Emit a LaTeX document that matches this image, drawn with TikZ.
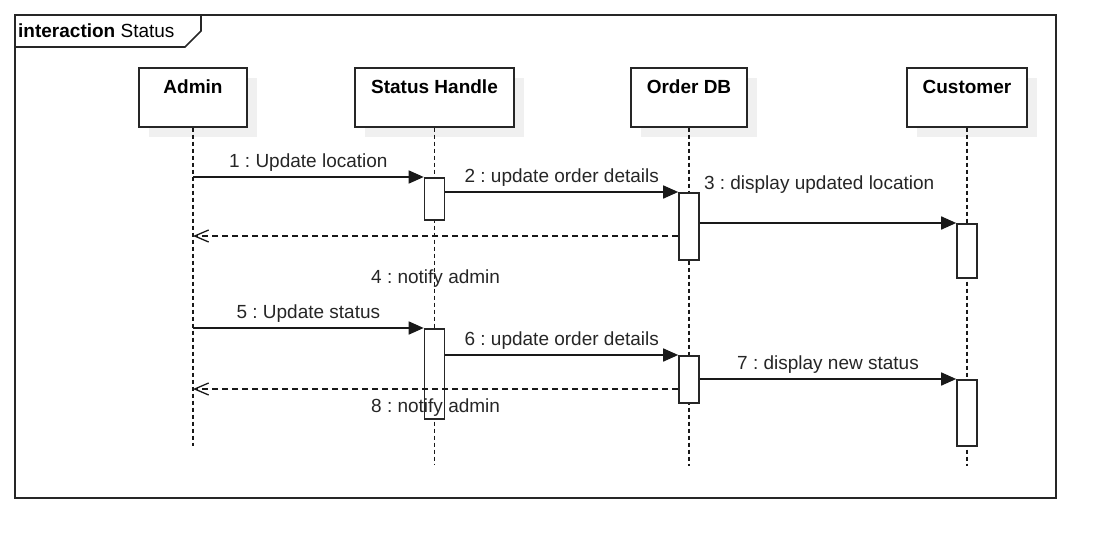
\documentclass[tikz,border=0pt]{standalone}
\usepackage{fontspec}
\setmainfont{Liberation Sans}
\usetikzlibrary{
	arrows.meta,
	positioning,
	shadows
}
\frenchspacing

\begin{document}
\begin{tikzpicture}[
			x=1pt, y=-1pt,
			font=\fontsize{19}{23}\selectfont,
			bloco/.style={draw=black!85, line width=1.6pt, fill=white, anchor=north, inner sep=0pt, text height=26pt, text depth=33pt, font=\fontsize{19}{23}\selectfont\bfseries, general shadow={fill=black!6, shadow xshift=10pt, shadow yshift=-10pt}},
			ativo/.style={draw=black!85, line width=1.6pt, fill=white, anchor=north, minimum width=20pt, inner sep=0pt},
			vida/.style={draw=black!90, line width=1.3pt, dash pattern=on 4pt off 3pt},
			fl/.style={-{Triangle[length=15pt,width=13pt]}, draw=black!90, line width=1.6pt},
			ret/.style={-{Straight Barb[length=14pt,width=12pt]}, draw=black!90, line width=1.3pt, dash pattern=on 6pt off 4pt},
			rot/.style={inner sep=0pt, text=black!85}
		]
		\useasboundingbox (0,0) rectangle (1116,559);

		% moldura
		\draw[line width=1.6pt, draw=black!85] (15,15) rectangle (1056,498);
		\draw[line width=1.6pt, draw=black!85] (15,47) -- (185,47) -- (201,31) -- (201,15);
		\node[rot, anchor=base west, text=black] (titulo) at (18,37.3) {\textbf{interaction} Status};

		% participantes
		\node[bloco, minimum width=108pt] (admin) at (193,67) {Admin};
		\node[bloco, minimum width=159pt] (handle) at (434.5,67) {Status Handle};
		\node[bloco, minimum width=116pt] (orderdb) at (689,67) {Order DB};
		\node[bloco, minimum width=120pt] (customer) at (967,67) {Customer};

		\coordinate (adminfim) at (193,446);
		\coordinate (handlefim) at (434.5,464);
		\coordinate (orderdbfim) at (689,466);
		\coordinate (customerfim) at (967,466);

		\draw[vida] (admin.south) -- (adminfim);
		\draw[vida] (handle.south) -- (handlefim);
		\draw[vida] (orderdb.south) -- (orderdbfim);
		\draw[vida] (customer.south) -- (customerfim);

		% ativacoes
		\node[ativo, minimum height=42pt] (a1) at (434.5,177) {};
		\node[ativo, minimum height=67pt] (a2) at (689,192) {};
		\node[ativo, minimum height=54pt] (a3) at (967,223) {};
		\node[ativo, minimum height=90pt] (a4) at (434.5,328) {};
		\node[ativo, minimum height=47pt] (a5) at (689,355) {};
		\node[ativo, minimum height=66pt] (a6) at (967,379) {};

		% mensagens
		\draw[fl] (admin |- a1.north) -- node[rot, above=5pt] (m1) {1 : Update location} (a1.north west);
		\draw[fl] (a1.east |- a2.north) -- node[rot, above=5pt] (m2) {2 : update order details} (a2.north west);
		\draw[fl] (a2.east |- a3.north) -- (a3.north west);
		\node[rot, anchor=base west] (m3) at ([xshift=4pt, yshift=3pt]a2.north east) {3 : display updated location};

		\coordinate (r4) at ([yshift=-44pt]a2.north west);
		\draw[ret] (r4) -- node[rot, below=33pt] (m4) {4 : notify admin} (admin |- r4);

		\draw[fl] (admin |- a4.north) -- node[rot, above=5pt] (m5) {5 : Update status} (a4.north west);
		\draw[fl] (a4.east |- a5.north) -- node[rot, above=5pt] (m6) {6 : update order details} (a5.north west);
		\draw[fl] (a5.east |- a6.north) -- node[rot, above=5pt] (m7) {7 : display new status} (a6.north west);

		\coordinate (r8) at ([yshift=-34pt]a5.north west);
		\draw[ret] (r8) -- node[rot, below=9pt] (m8) {8 : notify admin} (admin |- r8);
	\end{tikzpicture}
\end{document}
